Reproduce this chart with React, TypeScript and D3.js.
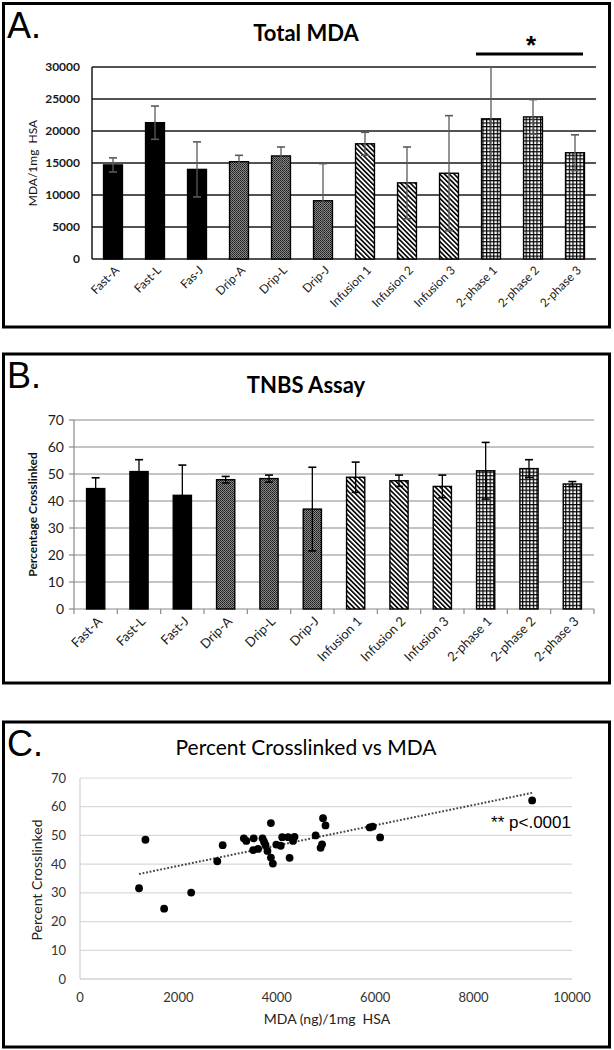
import React, { useEffect, useRef } from 'react';
import * as d3 from 'd3';

// panel A / B categories
const mdaLabels = ['Fast-A', 'Fast-L', 'Fas-J', 'Drip-A', 'Drip-L', 'Drip-J', 'Infusion 1', 'Infusion 2', 'Infusion 3', '2-phase 1', '2-phase 2', '2-phase 3'];
const tnbsLabels = ['Fast-A', 'Fast-L', 'Fast-J', 'Drip-A', 'Drip-L', 'Drip-J', 'Infusion 1', 'Infusion 2', 'Infusion 3', '2-phase 1', '2-phase 2', '2-phase 3'];
const groups = ['fast', 'fast', 'fast', 'drip', 'drip', 'drip', 'infusion', 'infusion', 'infusion', 'twophase', 'twophase', 'twophase'];

// A. Total MDA
const mdaMeans = [14700, 21300, 14000, 15200, 16100, 9100, 18000, 11900, 13400, 21900, 22200, 16600];
const mdaErrors = [1100, 2600, 4300, 1000, 1400, 5800, 1800, 5600, 9000, 8100, 2700, 2800];
const mdaTicks = [0, 5000, 10000, 15000, 20000, 25000, 30000];

// B. TNBS assay
const tnbsMeans = [44.6, 50.9, 42.1, 47.9, 48.3, 37.0, 48.8, 47.5, 45.4, 51.2, 52.0, 46.3];
const tnbsErrors = [4.0, 4.4, 11.2, 1.2, 1.3, 15.5, 5.6, 2.1, 4.2, 10.5, 3.3, 0.9];
const pctTicks = [0, 10, 20, 30, 40, 50, 60, 70];

// C. scatter
const scatterMda = [1200, 1330, 1710, 2260, 2790, 2900, 3330, 3380, 3530, 3520, 3620, 3710, 3740, 3770, 3810, 3880, 3880, 3920, 3990, 4080, 4110, 4230, 4260, 4330, 4360, 4790, 4890, 4920, 4940, 4990, 5890, 5950, 6100, 9190];
const scatterPct = [31.6, 48.5, 24.5, 30.1, 41.0, 46.6, 49.0, 48.1, 49.0, 44.9, 45.3, 49.0, 47.8, 46.7, 44.6, 54.3, 42.3, 40.2, 46.8, 46.4, 49.4, 49.4, 42.2, 48.1, 49.5, 50.0, 45.7, 46.9, 56.0, 53.5, 52.8, 53.1, 49.3, 62.2];
const scatterXTicks = [0, 2000, 4000, 6000, 8000, 10000];

const sans = "Lato, 'Open Sans', sans-serif";
const arial = "'Liberation Sans', Arial, sans-serif";

const fillFor: Record<string, string> = {
  fast: '#000',
  drip: 'url(#drip)',
  infusion: 'url(#hatch)',
  twophase: 'url(#grid)',
};

function barPanel(svg: any, cfg: any) {
  const x = d3.scaleBand<string>()
    .domain(cfg.labels)
    .range([cfg.left, cfg.right])
    .paddingInner(cfg.pad)
    .paddingOuter(cfg.pad / 2);
  const y = d3.scaleLinear().domain([0, cfg.max]).range([cfg.bottom, cfg.top]);
  const g = svg.append('g');

  // gridlines
  g.selectAll('.grid')
    .data(cfg.ticks.filter((t: number) => t > 0))
    .enter()
    .append('line')
    .attr('x1', cfg.left).attr('x2', cfg.right)
    .attr('y1', (d: number) => y(d)).attr('y2', (d: number) => y(d))
    .attr('stroke', cfg.gridColor)
    .attr('stroke-width', cfg.gridWidth);

  // axes
  g.append('line').attr('x1', cfg.left).attr('x2', cfg.left)
    .attr('y1', cfg.top).attr('y2', cfg.bottom)
    .attr('stroke', cfg.axisColor).attr('stroke-width', cfg.gridWidth);
  g.append('line').attr('x1', cfg.left).attr('x2', cfg.right)
    .attr('y1', cfg.bottom).attr('y2', cfg.bottom)
    .attr('stroke', cfg.axisColor).attr('stroke-width', cfg.gridWidth);

  if (cfg.axisTicks) {
    g.selectAll('.yt').data(cfg.ticks).enter().append('line')
      .attr('x1', cfg.left - 5).attr('x2', cfg.left)
      .attr('y1', (d: number) => y(d)).attr('y2', (d: number) => y(d))
      .attr('stroke', cfg.axisColor).attr('stroke-width', 1.2);
    const bounds = d3.range(cfg.labels.length + 1).map((i) => cfg.left + i * x.step());
    g.selectAll('.xt').data(bounds).enter().append('line')
      .attr('x1', (d: number) => d).attr('x2', (d: number) => d)
      .attr('y1', cfg.bottom).attr('y2', cfg.bottom + 5)
      .attr('stroke', cfg.axisColor).attr('stroke-width', 1.2);
  }

  // y tick labels
  g.selectAll('.yl').data(cfg.ticks).enter().append('text')
    .attr('x', cfg.tickX)
    .attr('y', (d: number) => y(d))
    .attr('dy', '0.35em')
    .attr('text-anchor', 'end')
    .attr('font-family', sans)
    .attr('font-size', cfg.tickSize)
    .attr('font-weight', cfg.tickWeight)
    .attr('fill', '#1a1a1a')
    .text((d: number) => d);

  // bars
  g.selectAll('.bar').data(cfg.means).enter().append('rect')
    .attr('x', (_: number, i: number) => x(cfg.labels[i]))
    .attr('y', (d: number) => y(d))
    .attr('width', x.bandwidth())
    .attr('height', (d: number) => cfg.bottom - y(d))
    .attr('fill', (_: number, i: number) => fillFor[groups[i]])
    .attr('stroke', '#000')
    .attr('stroke-width', 1.4);

  // error bars
  const eb = g.selectAll('.err').data(cfg.means).enter().append('g')
    .attr('transform', (_: number, i: number) => `translate(${(x(cfg.labels[i]) as number) + x.bandwidth() / 2},0)`);
  eb.append('line')
    .attr('y1', (d: number, i: number) => y(d - cfg.errors[i]))
    .attr('y2', (d: number, i: number) => y(d + cfg.errors[i]))
    .attr('stroke', cfg.errColor).attr('stroke-width', 1.3);
  [1, -1].forEach((s) => {
    eb.append('line')
      .attr('x1', -4).attr('x2', 4)
      .attr('y1', (d: number, i: number) => y(d + s * cfg.errors[i]))
      .attr('y2', (d: number, i: number) => y(d + s * cfg.errors[i]))
      .attr('stroke', cfg.errColor).attr('stroke-width', 1.6);
  });

  // x labels
  g.selectAll('.xl').data(cfg.labels).enter().append('text')
    .attr('transform', (d: string) => `translate(${(x(d) as number) + x.bandwidth() / 2 + cfg.labelDx},${cfg.labelY}) rotate(-45)`)
    .attr('text-anchor', 'end')
    .attr('dy', '0.35em')
    .attr('font-family', sans)
    .attr('font-size', cfg.labelSize)
    .attr('fill', '#1a1a1a')
    .text((d: string) => d);

  // y title
  g.append('text')
    .attr('transform', `translate(${cfg.titleX},${(cfg.top + cfg.bottom) / 2}) rotate(-90)`)
    .attr('text-anchor', 'middle')
    .attr('dy', '0.35em')
    .attr('font-family', sans)
    .attr('font-size', cfg.yTitleSize)
    .attr('font-weight', cfg.yTitleWeight)
    .attr('fill', '#111')
    .style('white-space', 'pre')
    .text(cfg.yTitle);
}

function frame(svg: any, y0: number, y1: number, letter: string, title: string, titleWeight: number, titleSize: number, titleY: number) {
  svg.append('rect')
    .attr('x', 3.5).attr('y', y0)
    .attr('width', 606).attr('height', y1 - y0)
    .attr('fill', 'none').attr('stroke', '#000').attr('stroke-width', 3);
  svg.append('text')
    .attr('x', 7).attr('y', y0 + 34)
    .attr('font-family', arial).attr('font-size', 36)
    .attr('fill', '#000').text(letter);
  svg.append('text')
    .attr('x', 306).attr('y', titleY)
    .attr('text-anchor', 'middle')
    .attr('font-family', sans).attr('font-size', titleSize)
    .attr('font-weight', titleWeight)
    .attr('fill', '#000').text(title);
}

export default function App() {
  const ref = useRef<SVGSVGElement>(null);

  useEffect(() => {
    if (!ref.current) return;
    const svg = d3.select(ref.current);
    svg.selectAll('*').remove();

    const defs = svg.append('defs');
    const drip = defs.append('pattern').attr('id', 'drip').attr('patternUnits', 'userSpaceOnUse')
      .attr('width', 2).attr('height', 2);
    drip.append('rect').attr('width', 2).attr('height', 2).attr('fill', '#8a8a8a');
    drip.append('rect').attr('width', 1).attr('height', 1).attr('fill', '#1a1a1a');
    drip.append('rect').attr('x', 1).attr('y', 1).attr('width', 1).attr('height', 1).attr('fill', '#333');

    const hatch = defs.append('pattern').attr('id', 'hatch').attr('patternUnits', 'userSpaceOnUse')
      .attr('width', 3.4).attr('height', 3.4).attr('patternTransform', 'rotate(-45)');
    hatch.append('rect').attr('width', 3.4).attr('height', 3.4).attr('fill', '#fff');
    hatch.append('rect').attr('width', 1.6).attr('height', 3.4).attr('fill', '#000');

    const grid = defs.append('pattern').attr('id', 'grid').attr('patternUnits', 'userSpaceOnUse')
      .attr('width', 3.6).attr('height', 3.6);
    grid.append('rect').attr('width', 3.6).attr('height', 3.6).attr('fill', '#000');
    grid.append('rect').attr('x', 1.2).attr('y', 1.2).attr('width', 2.4).attr('height', 2.4).attr('fill', '#fff');

    // ---- A ----
    frame(svg, 3.5, 327, 'A.', 'Total MDA', 700, 22, 41);
    barPanel(svg, {
      labels: mdaLabels, means: mdaMeans, errors: mdaErrors, ticks: mdaTicks, max: 30000,
      left: 92, right: 596, top: 67, bottom: 259, pad: 0.55,
      gridColor: '#1a1a1a', axisColor: '#1a1a1a', gridWidth: 1.5, axisTicks: false,
      errColor: '#5a5a5a', tickX: 80, tickSize: 12, tickWeight: 700,
      labelDx: 4, labelY: 268, labelSize: 12,
      titleX: 33, yTitle: 'MDA/1mg  HSA', yTitleSize: 12, yTitleWeight: 400,
    });
    // significance bar
    svg.append('line').attr('x1', 476).attr('x2', 583).attr('y1', 54).attr('y2', 54)
      .attr('stroke', '#000').attr('stroke-width', 3);
    svg.append('text').attr('x', 531).attr('y', 54)
      .attr('text-anchor', 'middle').attr('font-family', arial)
      .attr('font-size', 26).attr('font-weight', 700).text('*');

    // ---- B ----
    frame(svg, 354, 683, 'B.', 'TNBS Assay', 700, 22, 393);
    barPanel(svg, {
      labels: tnbsLabels, means: tnbsMeans, errors: tnbsErrors, ticks: pctTicks, max: 70,
      left: 74, right: 594, top: 420, bottom: 609, pad: 0.58,
      gridColor: '#8a8a8a', axisColor: '#8a8a8a', gridWidth: 1.2, axisTicks: true,
      errColor: '#000', tickX: 64, tickSize: 14, tickWeight: 400,
      labelDx: 4, labelY: 619, labelSize: 13,
      titleX: 33, yTitle: 'Percentage Crosslinked', yTitleSize: 12, yTitleWeight: 700,
    });

    // ---- C ----
    frame(svg, 722, 1047, 'C.', 'Percent Crosslinked vs MDA', 400, 21, 755);
    const cx = d3.scaleLinear().domain([0, 10000]).range([80, 572]);
    const cy = d3.scaleLinear().domain([0, 70]).range([979, 778]);
    const gc = svg.append('g');
    gc.selectAll('.grid').data(pctTicks).enter().append('line')
      .attr('x1', 80).attr('x2', 572)
      .attr('y1', (d) => cy(d)).attr('y2', (d) => cy(d))
      .attr('stroke', (d) => (d === 0 ? '#bcbcbc' : '#d9d9d9')).attr('stroke-width', 1.2);
    gc.append('line').attr('x1', 80).attr('x2', 80).attr('y1', 778).attr('y2', 979)
      .attr('stroke', '#d0d0d0').attr('stroke-width', 1.2);
    gc.selectAll('.yl').data(pctTicks).enter().append('text')
      .attr('x', 66).attr('y', (d) => cy(d)).attr('dy', '0.35em')
      .attr('text-anchor', 'end').attr('font-family', sans).attr('font-size', 13)
      .attr('fill', '#333').text((d) => d);
    gc.selectAll('.xl').data(scatterXTicks).enter().append('text')
      .attr('x', (d) => cx(d)).attr('y', 997).attr('dy', '0.35em')
      .attr('text-anchor', 'middle').attr('font-family', sans).attr('font-size', 13)
      .attr('fill', '#333').text((d) => d);

    // linear trend line (least squares)
    const mx = d3.mean(scatterMda) as number;
    const my = d3.mean(scatterPct) as number;
    const sxy = d3.sum(scatterMda, (v, i) => (v - mx) * (scatterPct[i] - my));
    const sxx = d3.sum(scatterMda, (v) => (v - mx) ** 2);
    const slope = sxy / sxx;
    const icpt = my - slope * mx;
    const [xmin, xmax] = d3.extent(scatterMda) as [number, number];
    gc.append('line')
      .attr('x1', cx(xmin)).attr('y1', cy(icpt + slope * xmin))
      .attr('x2', cx(xmax)).attr('y2', cy(icpt + slope * xmax))
      .attr('stroke', '#444').attr('stroke-width', 2)
      .attr('stroke-dasharray', '1.8 1.8');

    gc.selectAll('circle').data(scatterMda).enter().append('circle')
      .attr('cx', (d) => cx(d)).attr('cy', (_, i) => cy(scatterPct[i]))
      .attr('r', 3.9).attr('fill', '#000');

    gc.append('text').attr('x', 571).attr('y', 828).attr('text-anchor', 'end')
      .attr('font-family', arial).attr('font-size', 17).attr('fill', '#000')
      .text('** p<.0001');
    gc.append('text')
      .attr('transform', 'translate(37,880) rotate(-90)')
      .attr('text-anchor', 'middle').attr('dy', '0.35em')
      .attr('font-family', sans).attr('font-size', 14).attr('fill', '#222')
      .text('Percent Crosslinked');
    gc.append('text').attr('x', 327).attr('y', 1019).attr('dy', '0.35em')
      .attr('text-anchor', 'middle').attr('font-family', sans).attr('font-size', 14)
      .attr('fill', '#222').style('white-space', 'pre')
      .text('MDA (ng)/1mg  HSA');
  }, []);

  return (
    <div style={{ position: 'absolute', left: 0, top: 0 }}>
      <svg ref={ref} width={614} height={1050} style={{ display: 'block', background: '#fff' }} />
    </div>
  );
}
